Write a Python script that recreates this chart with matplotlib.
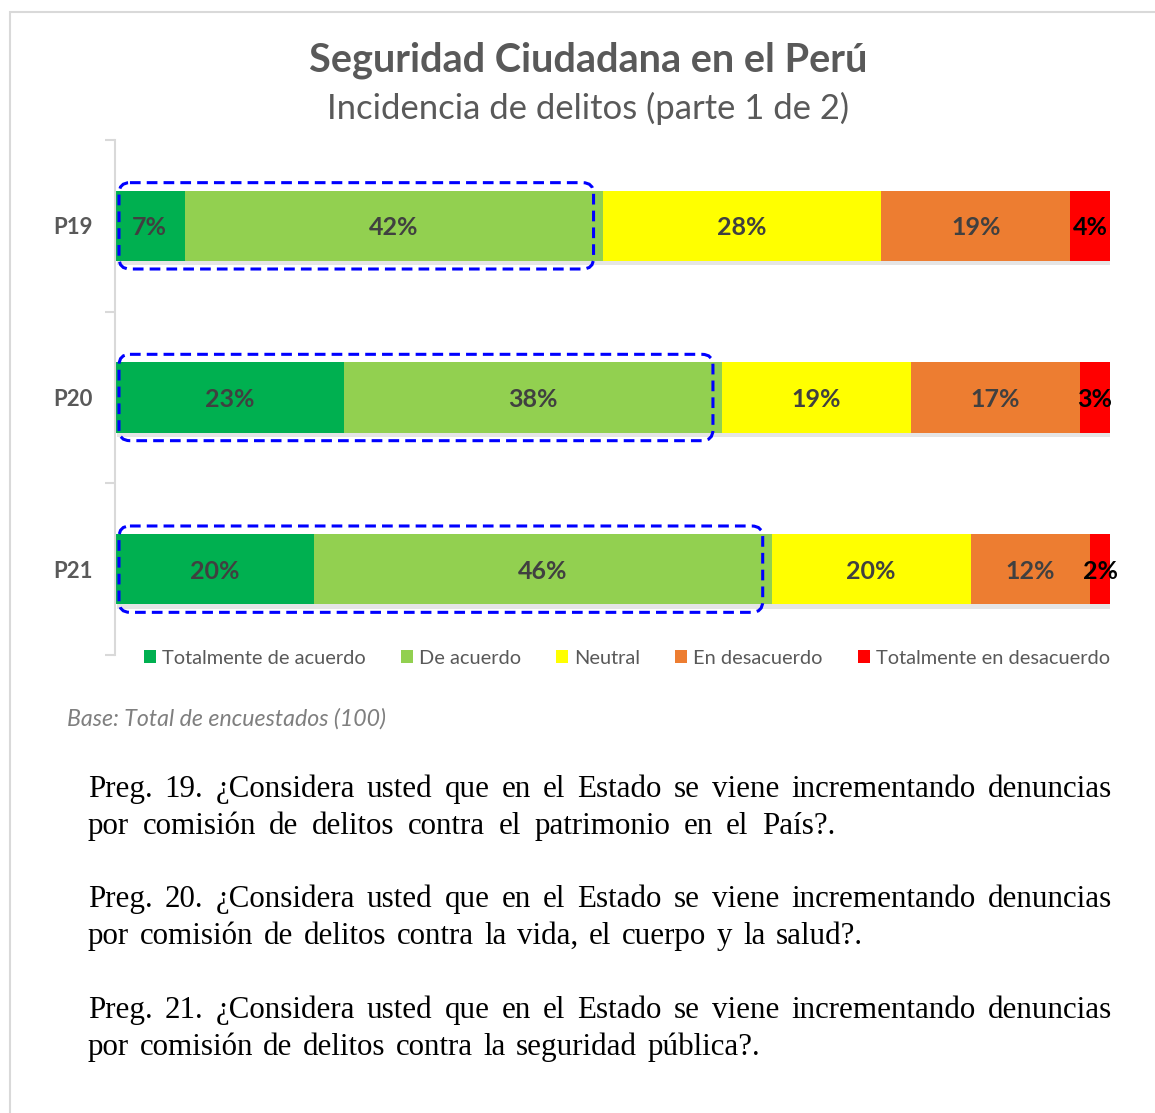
import numpy as np
import matplotlib
matplotlib.use("Agg")
import matplotlib.pyplot as plt
import matplotlib.patheffects as pe
from matplotlib.patches import FancyBboxPatch, Rectangle

# datos
preguntas = ["P19", "P20", "P21"]
categorias = ["Totalmente de acuerdo", "De acuerdo", "Neutral",
              "En desacuerdo", "Totalmente en desacuerdo"]
tot_acuerdo = [7, 23, 20]
de_acuerdo = [42, 38, 46]
neutral = [28, 19, 20]
desacuerdo = [19, 17, 12]
tot_desacuerdo = [4, 3, 2]
colores = ["#00B050", "#92D050", "#FFFF00", "#ED7D31", "#FF0000"]

titulo = "Seguridad Ciudadana en el Perú"
subtitulo = "Incidencia de delitos (parte 1 de 2)"
base_txt = "Base: Total de encuestados (100)"
preguntas_txt = [
    ("Preg. 19. ¿Considera usted que en el Estado se viene incrementando denuncias",
     "por comisión de delitos contra el patrimonio en el País?."),
    ("Preg. 20. ¿Considera usted que en el Estado se viene incrementando denuncias",
     "por comisión de delitos contra la vida, el cuerpo y la salud?."),
    ("Preg. 21. ¿Considera usted que en el Estado se viene incrementando denuncias",
     "por comisión de delitos contra la seguridad pública?."),
]

FONT = "Lato"
W, H = 1155, 1113
fig = plt.figure(figsize=(W / 100, H / 100), dpi=100)

# marco exterior
fig.patches.append(Rectangle((10 / W, -0.01), 1.02, 1 - 12 / H + 0.01,
                             transform=fig.transFigure, fill=False,
                             edgecolor="#D9D9D9", linewidth=1.5))

ax = fig.add_axes([115 / W, 1 - 655 / H, 995 / W, 515 / H])

series = [tot_acuerdo, de_acuerdo, neutral, desacuerdo, tot_desacuerdo]
y = np.arange(len(preguntas))
left = np.zeros(len(preguntas))
shadow = [pe.SimplePatchShadow(offset=(1.5, -3), shadow_rgbFace="#000000", alpha=0.1), pe.Normal()]
for i, (vals, col, nom) in enumerate(zip(series, colores, categorias)):
    bars = ax.barh(y, vals, left=left, height=0.41, color=col, label=nom,
                   path_effects=shadow, zorder=2)
    for b, v, l in zip(bars, vals, left):
        tc = "black" if i == 4 else "#404040"
        ax.text(l + v / 2, b.get_y() + b.get_height() / 2, f"{v}%",
                ha="center", va="center_baseline", fontsize=18, fontweight="bold",
                color=tc, family=FONT, zorder=4)
    left = left + np.array(vals)

# recuadros punteados alrededor de las dos primeras categorias
px_x = 100 / 995
px_y = 1 / 172
for yi, a, b in zip(y, tot_acuerdo, de_acuerdo):
    x0 = 4 * px_x
    x1 = a + b - 9 * px_x
    h = 0.41 + 16 * px_y
    box = FancyBboxPatch((x0, yi - h / 2), x1 - x0, h,
                         boxstyle="round,pad=0,rounding_size=1.1",
                         mutation_aspect=px_y / px_x,
                         fill=False, edgecolor="#0000FF", linewidth=2.2,
                         linestyle=(0, (3.5, 2)), zorder=5, clip_on=False)
    ax.add_patch(box)

ax.set_xlim(0, 100)
ax.set_ylim(2.5, -0.5)
ax.set_yticks(y)
ax.set_yticklabels(preguntas, fontsize=16, fontweight="bold", color="#595959", family=FONT)
ax.set_yticks([-0.5, 0.5, 1.5, 2.5], minor=True)
ax.tick_params(axis="y", which="major", length=0, pad=16)
ax.tick_params(axis="y", which="minor", length=7, color="#D9D9D9", width=1.5)
ax.set_xticks([])
for s in ["top", "right", "bottom"]:
    ax.spines[s].set_visible(False)
ax.spines["left"].set_color("#D9D9D9")
ax.spines["left"].set_linewidth(1.5)

leg = fig.legend(loc="center", bbox_to_anchor=(627 / W, 1 - 658 / H), ncol=5,
                 frameon=False, handlelength=0.6, handleheight=0.6,
                 handletextpad=0.3, columnspacing=1.75,
                 prop={"family": FONT, "size": 14.4})
for t in leg.get_texts():
    t.set_color("#595959")
for hnd in leg.legend_handles:
    hnd.set_path_effects([])

fig.text(588 / W, 1 - 60 / H, titulo, ha="center", va="center", fontsize=28.5,
         fontweight="bold", color="#595959", family=FONT)
fig.text(588 / W, 1 - 108 / H, subtitulo, ha="center", va="center", fontsize=24.9,
         color="#595959", family=FONT)
fig.text(67 / W, 1 - 719 / H, base_txt, ha="left", va="center", fontsize=16.7,
         style="italic", color="#7F7F7F", family=FONT)

# parrafos justificados
renderer = fig.canvas.get_renderer()
SERIF = "Liberation Serif"
FS = 22.3


def linea_justificada(texto, x0, x1, ybase):
    palabras = texto.split(" ")
    objs = [fig.text(0, 1 - ybase / H, p, fontsize=FS, family=SERIF,
                     va="baseline", ha="left") for p in palabras]
    anchos = [o.get_window_extent(renderer).width for o in objs]
    hueco = (x1 - x0 - sum(anchos)) / (len(palabras) - 1)
    x = x0
    for o, w in zip(objs, anchos):
        o.set_x(x / W)
        x += w + hueco


bases = [797, 907, 1018]
fines_l2 = [835, 863, 760]
for (l1, l2), yb, fin in zip(preguntas_txt, bases, fines_l2):
    linea_justificada(l1, 88, 1112, yb)
    linea_justificada(l2, 88, fin, yb + 37)

fig.savefig("out.png", dpi=100)
